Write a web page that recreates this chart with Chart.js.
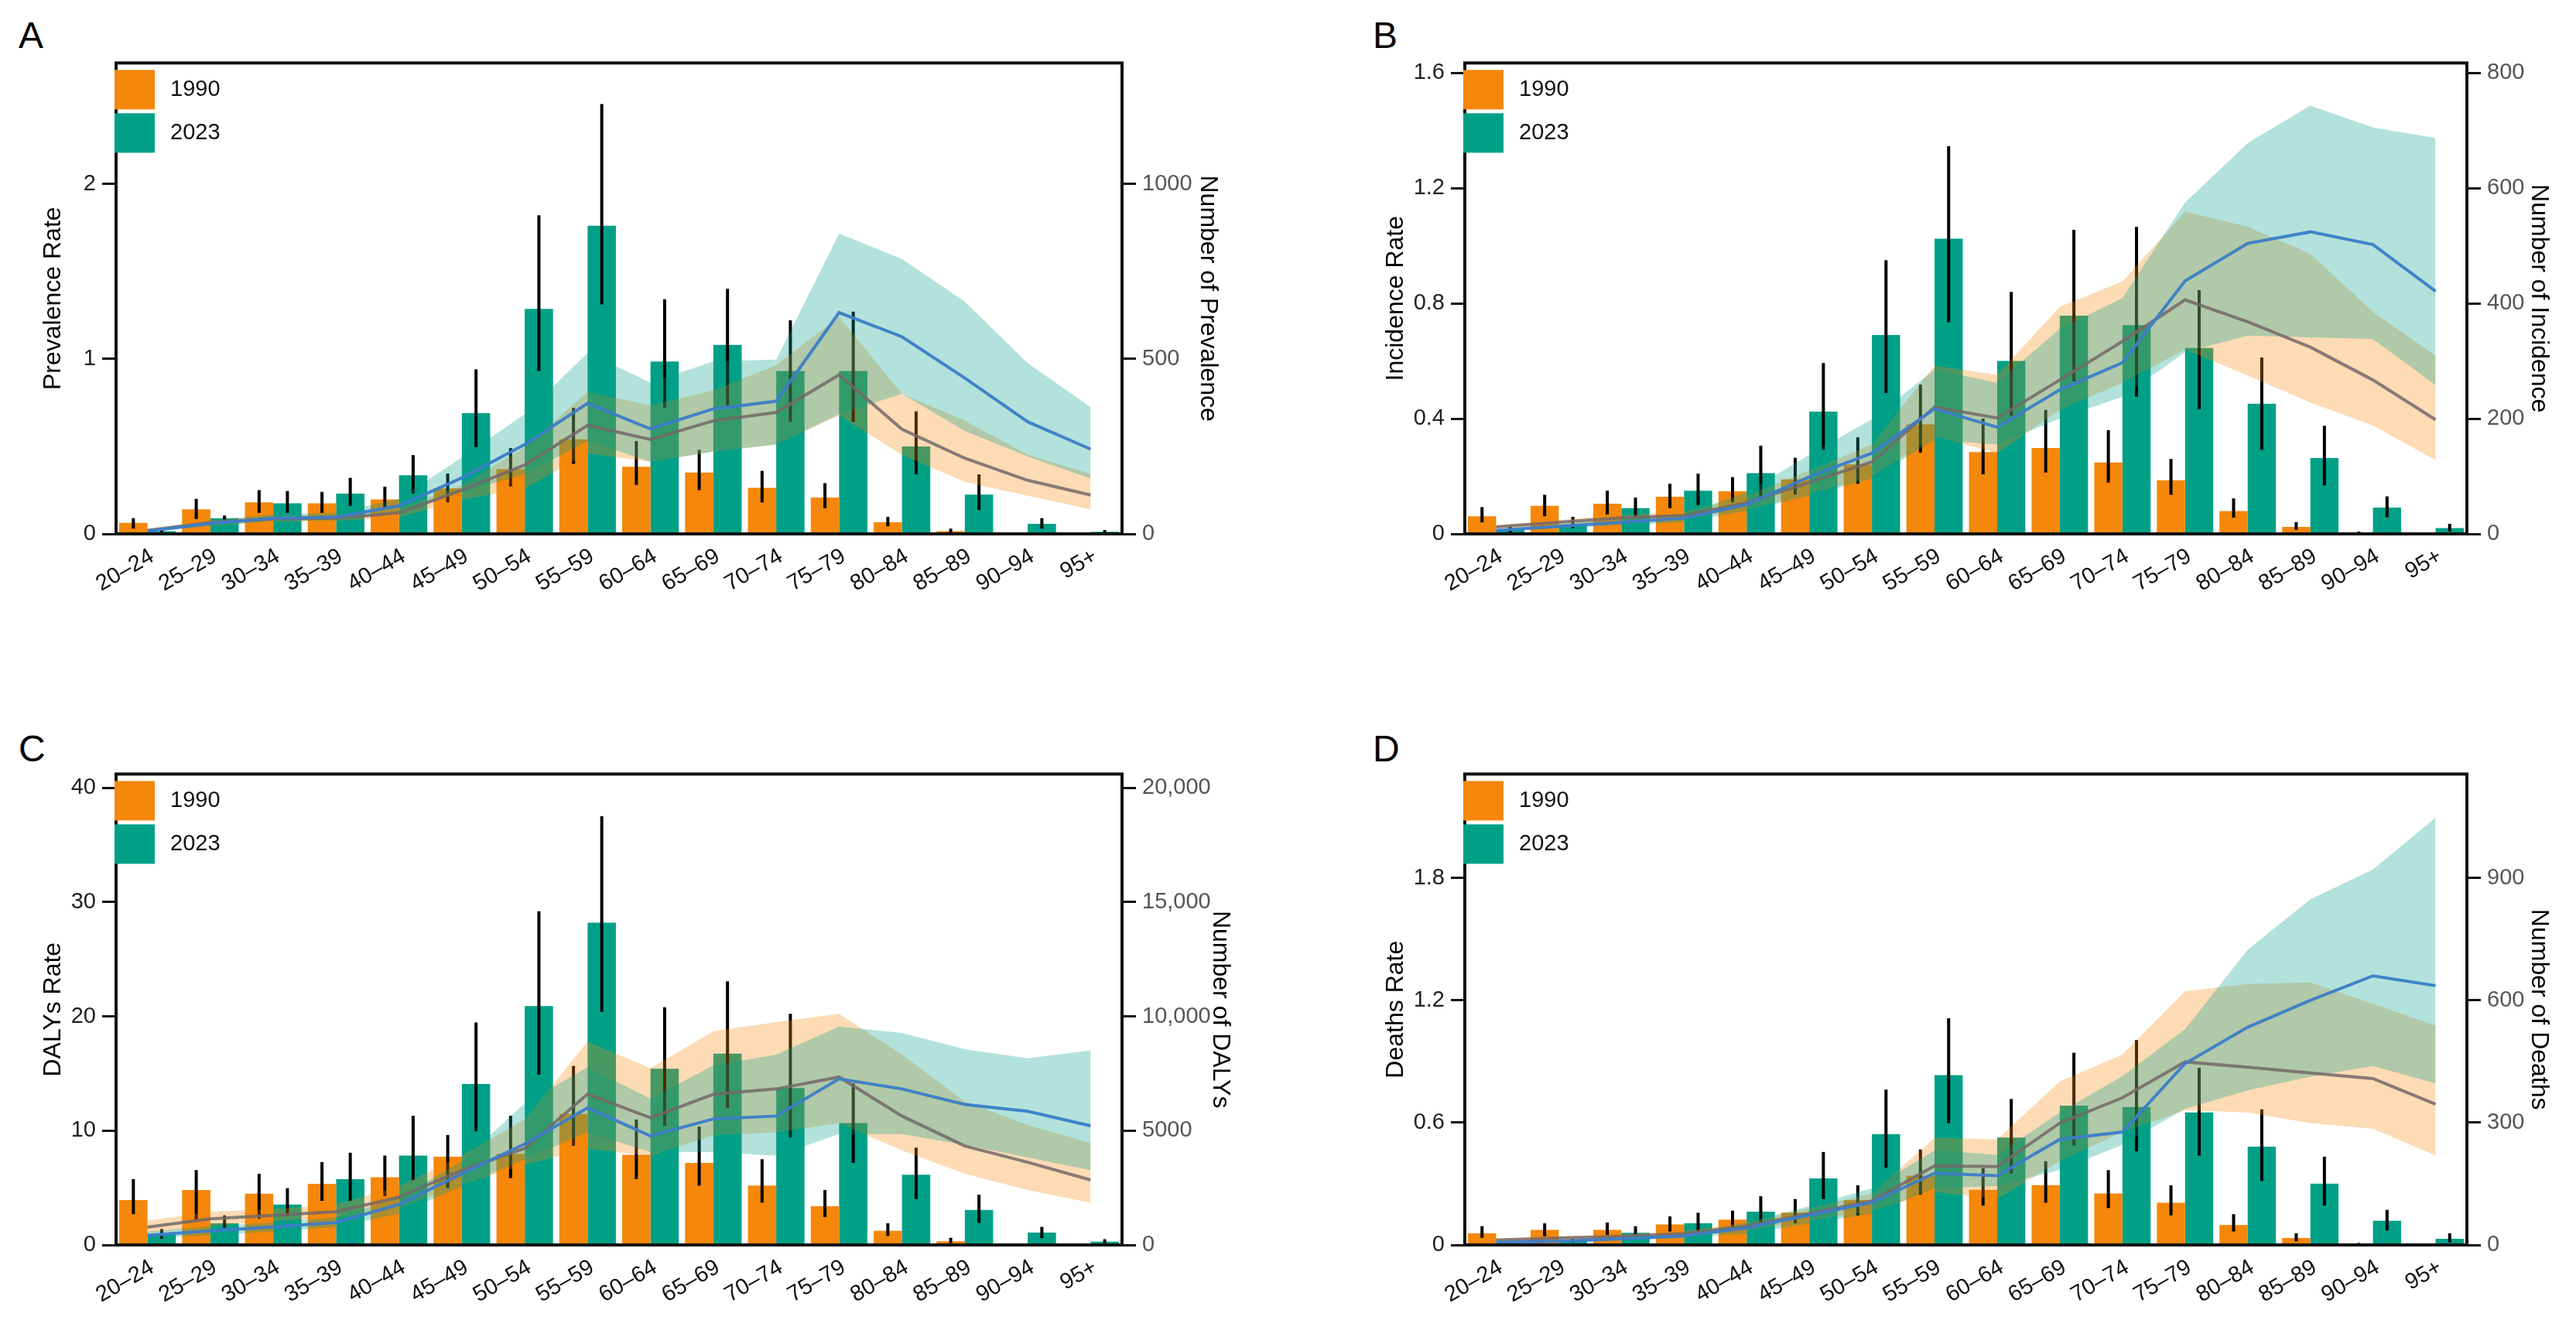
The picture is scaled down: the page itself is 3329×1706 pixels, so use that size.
<!DOCTYPE html>
<html>
<head>
<meta charset="utf-8">
<script src="https://cdn.jsdelivr.net/npm/chart.js@4.4.1/dist/chart.umd.min.js"></script>
<style>
  body { margin: 0; background: #fff; width: 3329px; height: 1706px; position: relative; overflow: hidden;
         font-family: "Liberation Sans", Arial, sans-serif; }
  canvas { position: absolute; }
  .tag { position: absolute; font-size: 48px; color: #000; line-height: 1; }
</style>
</head>
<body>
<div class="tag" style="left:24px;top:22px">A</div>
<div class="tag" style="left:1774px;top:22px">B</div>
<div class="tag" style="left:24px;top:944px">C</div>
<div class="tag" style="left:1774px;top:944px">D</div>
<canvas id="cA" width="1538" height="731" style="left:46px;top:56px"></canvas>
<canvas id="cB" width="1523" height="731" style="left:1781px;top:56px"></canvas>
<canvas id="cC" width="1554" height="731" style="left:46px;top:975px"></canvas>
<canvas id="cD" width="1523" height="731" style="left:1781px;top:975px"></canvas>
<script>
// --- categories ---
const ageGroups = ['20–24','25–29','30–34','35–39','40–44','45–49','50–54','55–59',
                   '60–64','65–69','70–74','75–79','80–84','85–89','90–94','95+'];

// --- A: prevalence ---
const rate1990A = [0.063,0.14,0.18,0.175,0.197,0.26,0.37,0.54,0.383,0.35,0.263,0.208,0.066,0.016,0.002,0.001];
const low1990A  = [0.03,0.085,0.12,0.12,0.145,0.18,0.27,0.40,0.28,0.25,0.18,0.146,0.043,0.004,0,0];
const up1990A   = [0.09,0.20,0.25,0.24,0.27,0.345,0.49,0.72,0.53,0.48,0.36,0.29,0.097,0.03,0.004,0.002];
const rate2023A = [0.015,0.09,0.175,0.23,0.335,0.69,1.285,1.76,0.985,1.08,0.93,0.93,0.50,0.224,0.058,0.012];
const low2023A  = [0.005,0.065,0.12,0.16,0.23,0.495,0.93,1.31,0.72,0.73,0.64,0.64,0.34,0.136,0.03,0.004];
const up2023A   = [0.025,0.105,0.245,0.32,0.45,0.94,1.82,2.455,1.34,1.40,1.22,1.27,0.70,0.34,0.09,0.022];
const num1990A     = [10,32,43,45,60,125,197,310,270,323,347,454,299,216,153,111];
const numLow1990A  = [6,22,34,37,47,98,130,230,206,235,255,338,226,148,109,70];
const numUp1990A   = [14,40,52,55,73,140,247,406,367,410,482,620,400,323,226,172];
const num2023A     = [8,30,45,48,80,160,255,373,300,357,379,632,563,445,320,242];
const numLow2023A  = [5,22,36,38,62,120,170,265,206,235,255,342,400,294,221,158];
const numUp2023A   = [11,38,56,60,100,218,342,517,432,493,498,858,785,663,488,362];
const rateTicksA = [0, 1, 2];
const numTicksA  = [0, 500, 1000];
const numTickLabelsA = ['0', '500', '1000'];

// --- B: incidence ---
const rate1990B = [0.061,0.097,0.105,0.129,0.148,0.189,0.241,0.38,0.284,0.298,0.248,0.186,0.079,0.024,0.004,0.001];
const low1990B  = [0.04,0.061,0.067,0.089,0.109,0.136,0.174,0.282,0.207,0.213,0.178,0.136,0.056,0.014,0.001,0];
const up1990B   = [0.093,0.136,0.15,0.174,0.197,0.264,0.335,0.518,0.40,0.43,0.36,0.26,0.123,0.041,0.008,0.003];
const rate2023B = [0.014,0.032,0.089,0.15,0.211,0.424,0.69,1.024,0.60,0.757,0.724,0.645,0.452,0.263,0.091,0.02];
const low2023B  = [0.005,0.02,0.061,0.099,0.118,0.292,0.489,0.734,0.41,0.529,0.476,0.432,0.292,0.168,0.058,0.008];
const up2023B   = [0.026,0.059,0.126,0.209,0.306,0.593,0.95,1.345,0.84,1.055,1.065,0.846,0.612,0.375,0.13,0.035];
const num1990B     = [12,20,28,32,54,89,125,220,201,267,334,406,368,324,267,198];
const numLow1990B  = [9,15,22,26,42,69,99,169,140,215,262,320,275,228,188,128];
const numUp1990B   = [15,24,33,38,66,110,155,292,276,394,438,559,533,486,385,309];
const num2023B     = [6,13,20,27,51,99,140,217,185,250,297,439,504,524,502,421];
const numLow2023B  = [4,10,15,20,40,66,96,163,155,200,238,315,344,341,338,258];
const numUp2023B   = [8,17,26,34,72,137,199,285,262,356,409,575,678,743,705,687];
const rateTicksB = [0, 0.4, 0.8, 1.2, 1.6];
const numTicksB  = [0, 200, 400, 600, 800];
const numTickLabelsB = ['0', '200', '400', '600', '800'];

// --- C: DALYs ---
const rate1990C = [3.92,4.81,4.49,5.35,5.92,7.72,7.97,11.46,7.88,7.18,5.19,3.39,1.23,0.32,0.02,0.01];
const low1990C  = [2.69,2.22,2.28,3.86,4.27,4.97,5.85,8.67,5.76,5.19,3.7,2.44,0.79,0.16,0,0];
const up1990C   = [5.76,6.55,6.23,7.25,7.82,9.62,11.3,15.66,10.98,10.35,7.5,4.81,1.9,0.63,0.05,0.03];
const rate2023C = [0.95,1.90,3.54,5.76,7.82,14.08,20.9,28.2,15.41,16.74,13.73,10.66,6.14,3.07,1.08,0.28];
const low2023C  = [0.54,1.49,2.5,3.86,5.66,9.94,14.9,20.4,10.41,11.99,9.40,7.18,4.02,1.93,0.60,0.16];
const up2023C   = [1.39,2.59,4.97,8.07,11.3,19.46,29.2,37.5,20.8,23.07,20.22,14.15,8.51,4.40,1.58,0.5];
const num1990C     = [775,1139,1297,1456,2089,3275,4225,6598,5560,6590,6825,7346,5640,4329,3618,2844];
const numLow1990C  = [506,822,1060,1170,1612,2640,3510,4218,3900,4800,4929,5324,4139,3112,2401,1848];
const numUp1990C   = [1060,1456,1566,1772,2563,3908,5490,8890,7725,9352,9747,10110,8325,6272,5245,4455];
const num2023C     = [427,617,791,981,1772,3117,4415,5997,4771,5513,5640,7267,6825,6145,5845,5213];
const numLow2023C  = [300,427,585,775,1375,2560,3745,4929,4060,4060,3900,4850,4850,4376,3823,3270];
const numUp2023C   = [585,822,980,1218,2085,3665,6193,7773,6398,7851,8325,9557,9273,8562,8167,8515];
const rateTicksC = [0, 10, 20, 30, 40];
const numTicksC  = [0, 5000, 10000, 15000, 20000];
const numTickLabelsC = ['0', '5000', '10,000', '15,000', '20,000'];

// --- D: deaths ---
const rate1990D = [0.057,0.074,0.074,0.101,0.124,0.158,0.22,0.34,0.27,0.293,0.252,0.207,0.098,0.034,0.004,0.002];
const low1990D  = [0.035,0.043,0.048,0.066,0.083,0.106,0.145,0.246,0.193,0.207,0.181,0.145,0.066,0.018,0.001,0];
const up1990D   = [0.092,0.106,0.11,0.14,0.168,0.225,0.293,0.468,0.376,0.411,0.367,0.293,0.151,0.057,0.01,0.005];
const rate2023D = [0.009,0.021,0.06,0.106,0.163,0.326,0.544,0.833,0.527,0.683,0.677,0.65,0.482,0.301,0.119,0.03];
const low2023D  = [0.004,0.012,0.035,0.066,0.101,0.225,0.379,0.597,0.35,0.488,0.459,0.438,0.314,0.193,0.071,0.012];
const up2023D   = [0.015,0.03,0.092,0.158,0.239,0.456,0.762,1.112,0.716,0.943,1.005,0.869,0.665,0.433,0.172,0.057];
const num1990D     = [12,17,21,28,46,77,108,194,192,299,361,449,436,422,408,345];
const numLow1990D  = [9,13,17,22,35,59,84,130,113,206,277,330,325,299,285,219];
const numUp1990D   = [16,21,26,34,55,90,126,263,259,401,467,622,640,644,591,538];
const num2023D     = [6,9,15,22,42,73,104,176,170,259,277,445,534,600,660,636];
const numLow2023D  = [4,6,11,17,28,52,77,139,144,184,246,334,379,413,439,396];
const numUp2023D   = [8,12,19,27,55,95,139,232,221,325,414,529,724,848,921,1048];
const rateTicksD = [0, 0.6, 1.2, 1.8];
const numTicksD  = [0, 300, 600, 900];
const numTickLabelsD = ['0', '300', '600', '900'];

// --- colours ---
const ORANGE = '#F5870A';
const TEAL = '#00A087';
const ORANGE_BAND = 'rgba(245,135,10,0.30)';
const TEAL_BAND = 'rgba(0,160,135,0.30)';
const LINE_1990 = 'rgba(115,105,105,0.85)';
const LINE_2023 = 'rgba(60,125,200,0.95)';
const FONT = '"Liberation Sans", Arial, sans-serif';

// error bars drawn right after each bar dataset (so the bands sit on top)
const errorBars = {
  id: 'errorBars',
  afterDatasetDraw(chart, args) {
    const ds = chart.data.datasets[args.index];
    if (!ds.errLow) return;
    const y = chart.scales.y;
    const ctx = chart.ctx;
    ctx.save();
    ctx.strokeStyle = '#000';
    ctx.lineWidth = 4;
    args.meta.data.forEach((bar, i) => {
      ctx.beginPath();
      ctx.moveTo(bar.x, y.getPixelForValue(ds.errLow[i]));
      ctx.lineTo(bar.x, y.getPixelForValue(ds.errHigh[i]));
      ctx.stroke();
    });
    ctx.restore();
  }
};

// box around the plotting area + the two-item key in its top-left corner
const frameAndKey = {
  id: 'frameAndKey',
  afterDatasetsDraw(chart) {
    const a = chart.chartArea;
    const ctx = chart.ctx;
    ctx.save();
    ctx.strokeStyle = '#111';
    ctx.lineWidth = 4;
    ctx.strokeRect(a.left, a.top, a.right - a.left, a.bottom - a.top);
    ctx.font = '29px ' + FONT;
    ctx.textBaseline = 'middle';
    chart.data.datasets.slice(0, 2).forEach((ds, i) => {
      const top = a.top + 9 + i * 56;
      ctx.fillStyle = ds.backgroundColor;
      ctx.fillRect(a.left - 2, top, 52, 51);
      ctx.fillStyle = '#111';
      ctx.fillText(ds.label, a.left + 70, top + 26);
    });
    ctx.restore();
  }
};

function yAxis(pos, title, ticks, labels, max, width, color) {
  return {
    position: pos,
    min: 0,
    max: max,
    afterBuildTicks: (s) => { s.ticks = ticks.map(v => ({ value: v })); },
    afterFit: (s) => { s.width = width; },
    ticks: {
      autoSkip: false,
      padding: 8,
      color: color,
      font: { family: FONT, size: 29 },
      callback: (v, i) => labels[i]
    },
    grid: { display: true, drawOnChartArea: false, drawTicks: true, tickLength: 18, tickWidth: 3, tickColor: '#111' },
    border: { display: false },
    title: { display: true, text: title, color: '#000', font: { family: FONT, size: 32 }, padding: { top: 4, bottom: 4 } }
  };
}

function makePanel(id, p) {
  const bandLine = (data, fill, bg, order) => ({
    type: 'line', data: data, yAxisID: 'y1', order: order,
    borderWidth: 0, pointRadius: 0, tension: 0,
    fill: fill, backgroundColor: bg
  });
  new Chart(document.getElementById(id), {
    type: 'bar',
    data: {
      labels: ageGroups,
      datasets: [
        { label: '1990', data: p.r90, backgroundColor: ORANGE, borderWidth: 0, order: 5,
          errLow: p.lo90, errHigh: p.up90, yAxisID: 'y' },
        { label: '2023', data: p.r23, backgroundColor: TEAL, borderWidth: 0, order: 5,
          errLow: p.lo23, errHigh: p.up23, yAxisID: 'y' },
        bandLine(p.nu90, '+1', ORANGE_BAND, 4),
        bandLine(p.nl90, false, 'rgba(0,0,0,0)', 4),
        bandLine(p.nu23, '+1', TEAL_BAND, 3),
        bandLine(p.nl23, false, 'rgba(0,0,0,0)', 3),
        { type: 'line', label: 'n1990', data: p.n90, yAxisID: 'y1', order: 2, fill: false,
          borderColor: LINE_1990, borderWidth: 4, pointRadius: 0, tension: 0 },
        { type: 'line', label: 'n2023', data: p.n23, yAxisID: 'y1', order: 1, fill: false,
          borderColor: LINE_2023, borderWidth: 4, pointRadius: 0, tension: 0 }
      ]
    },
    options: {
      responsive: false,
      animation: false,
      devicePixelRatio: 1,
      layout: { padding: { top: 20, left: 0, right: 0, bottom: 0 } },
      datasets: { bar: { categoryPercentage: 0.9, barPercentage: 1.0 } },
      scales: {
        x: {
          afterFit: (s) => { s.height = 97; },
          grid: { display: false },
          border: { display: false },
          ticks: { autoSkip: false, minRotation: 30, maxRotation: 30, padding: 4, labelOffset: 6, color: '#111',
                   font: { family: FONT, size: 29 } }
        },
        y: yAxis('left', p.rateTitle, p.rateTicks, p.rateTicks.map(String), p.rateMax, p.leftW, '#222'),
        y1: yAxis('right', p.numTitle, p.numTicks, p.numLabels, p.rateMax * 500, p.rightW, '#555')
      },
      plugins: {
        tooltip: { enabled: false },
        legend: { display: false }
      }
    },
    plugins: [errorBars, frameAndKey]
  });
}

makePanel('cA', { r90: rate1990A, lo90: low1990A, up90: up1990A, r23: rate2023A, lo23: low2023A, up23: up2023A,
  n90: num1990A, nl90: numLow1990A, nu90: numUp1990A, n23: num2023A, nl23: numLow2023A, nu23: numUp2023A,
  rateTicks: rateTicksA, numTicks: numTicksA, numLabels: numTickLabelsA, rateMax: 2.69,
  rateTitle: 'Prevalence Rate', numTitle: 'Number of Prevalence', leftW: 104, rightW: 134 });
makePanel('cB', { r90: rate1990B, lo90: low1990B, up90: up1990B, r23: rate2023B, lo23: low2023B, up23: up2023B,
  n90: num1990B, nl90: numLow1990B, nu90: numUp1990B, n23: num2023B, nl23: numLow2023B, nu23: numUp2023B,
  rateTicks: rateTicksB, numTicks: numTicksB, numLabels: numTickLabelsB, rateMax: 1.634,
  rateTitle: 'Incidence Rate', numTitle: 'Number of Incidence', leftW: 112, rightW: 116 });
makePanel('cC', { r90: rate1990C, lo90: low1990C, up90: up1990C, r23: rate2023C, lo23: low2023C, up23: up2023C,
  n90: num1990C, nl90: numLow1990C, nu90: numUp1990C, n23: num2023C, nl23: numLow2023C, nu23: numUp2023C,
  rateTicks: rateTicksC, numTicks: numTicksC, numLabels: numTickLabelsC, rateMax: 41.2,
  rateTitle: 'DALYs Rate', numTitle: 'Number of DALYs', leftW: 104, rightW: 150 });
makePanel('cD', { r90: rate1990D, lo90: low1990D, up90: up1990D, r23: rate2023D, lo23: low2023D, up23: up2023D,
  n90: num1990D, nl90: numLow1990D, nu90: numUp1990D, n23: num2023D, nl23: numLow2023D, nu23: numUp2023D,
  rateTicks: rateTicksD, numTicks: numTicksD, numLabels: numTickLabelsD, rateMax: 2.31,
  rateTitle: 'Deaths Rate', numTitle: 'Number of Deaths', leftW: 112, rightW: 116 });
</script>
</body>
</html>
